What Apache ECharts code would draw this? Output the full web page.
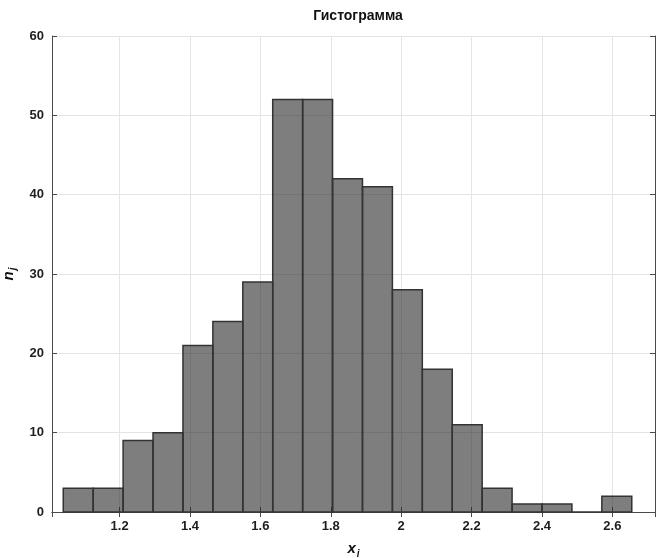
<!DOCTYPE html>
<html>
<head>
<meta charset="utf-8">
<script src="https://cdn.jsdelivr.net/npm/echarts@6/dist/echarts.min.js"></script>
<style>
    html, body { margin: 0; padding: 0; background: #fff; }
    #hist { width: 656px; height: 558px; }
</style>
</head>
<body>
<div id="hist"></div>
<script>
// bin edges of the histogram
var binEdges = [1.040, 1.125, 1.210, 1.295, 1.380, 1.465, 1.550, 1.635, 1.720, 1.805,
                1.890, 1.975, 2.060, 2.145, 2.230, 2.315, 2.400, 2.485, 2.570, 2.655];
// counts n_j per bin
var binCounts = [3, 3, 9, 10, 21, 24, 29, 52, 52, 42, 41, 28, 18, 11, 3, 1, 1, 0, 2];
var titleText = 'Гистограмма';
var xMin = 1.008, xMax = 2.721;
var yMin = 0, yMax = 60, yStep = 10;

(function () {
    var myChart = echarts.init(document.getElementById('hist'));

    var data = binCounts.map(function (n, i) {
        return [binEdges[i], binEdges[i + 1], n];
    });

    var axisColor = '#4a4a4a';
    var labelStyle = {
        color: '#1e1e1e',
        fontSize: 13,
        fontWeight: 'bold',
        fontFamily: 'Liberation Sans'
    };

    var option = {
        animation: false,
        title: {
            text: titleText,
            left: 353,
            top: 4,
            textAlign: 'center',
            textStyle: {
                color: '#111',
                fontSize: 14,
                fontWeight: 'bold',
                fontFamily: 'Liberation Sans'
            }
        },
        grid: {
            left: 52,
            right: 1,
            top: 36,
            bottom: 46,
            containLabel: false,
            outerBoundsMode: 'none'
        },
        xAxis: [
            {
                type: 'value',
                min: xMin,
                max: xMax,
                splitNumber: 8,
                position: 'bottom',
                axisLine: { show: true, lineStyle: { color: axisColor, width: 1 } },
                axisTick: { show: true, inside: true, length: 5, lineStyle: { color: axisColor } },
                axisLabel: {
                    showMinLabel: false,
                    showMaxLabel: false,
                    margin: 8,
                    color: labelStyle.color,
                    fontSize: labelStyle.fontSize,
                    fontWeight: labelStyle.fontWeight,
                    fontFamily: labelStyle.fontFamily
                },
                splitLine: { show: true, lineStyle: { color: '#e4e4e4', width: 1 } },
                name: '{v|x}{s|i}',
                nameLocation: 'middle',
                nameGap: 27,
                nameTextStyle: {
                    rich: {
                        v: { fontSize: 15, fontWeight: 'bold', fontStyle: 'italic', fontFamily: 'Liberation Sans', color: '#111' },
                        s: { fontSize: 10, fontWeight: 'bold', fontStyle: 'italic', fontFamily: 'Liberation Sans', color: '#111', padding: [10, 0, 0, 1] }
                    }
                }
            },
            {
                type: 'value',
                min: xMin,
                max: xMax,
                splitNumber: 8,
                position: 'top',
                axisLine: { show: true, lineStyle: { color: axisColor, width: 1 } },
                axisTick: { show: true, inside: true, length: 5, lineStyle: { color: axisColor } },
                axisLabel: { show: false },
                splitLine: { show: false }
            }
        ],
        yAxis: [
            {
                type: 'value',
                min: yMin,
                max: yMax,
                interval: yStep,
                position: 'left',
                axisLine: { show: true, lineStyle: { color: axisColor, width: 1 } },
                axisTick: { show: true, inside: true, length: 5, lineStyle: { color: axisColor } },
                axisLabel: {
                    margin: 8,
                    color: labelStyle.color,
                    fontSize: labelStyle.fontSize,
                    fontWeight: labelStyle.fontWeight,
                    fontFamily: labelStyle.fontFamily
                },
                splitLine: { show: true, lineStyle: { color: '#e4e4e4', width: 1 } },
                name: '{v|n}{s|j}',
                nameLocation: 'middle',
                nameRotate: 90,
                nameGap: 31,
                nameTextStyle: {
                    rich: {
                        v: { fontSize: 15, fontWeight: 'bold', fontStyle: 'italic', fontFamily: 'Liberation Sans', color: '#111' },
                        s: { fontSize: 10, fontWeight: 'bold', fontStyle: 'italic', fontFamily: 'Liberation Sans', color: '#111', padding: [10, 0, 0, 1] }
                    }
                }
            },
            {
                type: 'value',
                min: yMin,
                max: yMax,
                interval: yStep,
                position: 'right',
                axisLine: { show: true, lineStyle: { color: axisColor, width: 1 } },
                axisTick: { show: true, inside: true, length: 5, lineStyle: { color: axisColor } },
                axisLabel: { show: false },
                splitLine: { show: false }
            }
        ],
        series: [
            {
                name: 'n_j',
                type: 'custom',
                xAxisIndex: 0,
                yAxisIndex: 0,
                encode: { x: [0, 1], y: 2 },
                data: data,
                renderItem: function (params, api) {
                    var topLeft = api.coord([api.value(0), api.value(2)]);
                    var bottomRight = api.coord([api.value(1), 0]);
                    return {
                        type: 'rect',
                        shape: {
                            x: topLeft[0],
                            y: topLeft[1],
                            width: bottomRight[0] - topLeft[0],
                            height: bottomRight[1] - topLeft[1]
                        },
                        style: {
                            fill: 'rgba(40,40,40,0.6)',
                            stroke: '#333',
                            lineWidth: 1.5
                        }
                    };
                }
            }
        ]
    };

    myChart.setOption(option);
    window.addEventListener("resize", function () {
        myChart.resize();
    });
})();
</script>
</body>
</html>
